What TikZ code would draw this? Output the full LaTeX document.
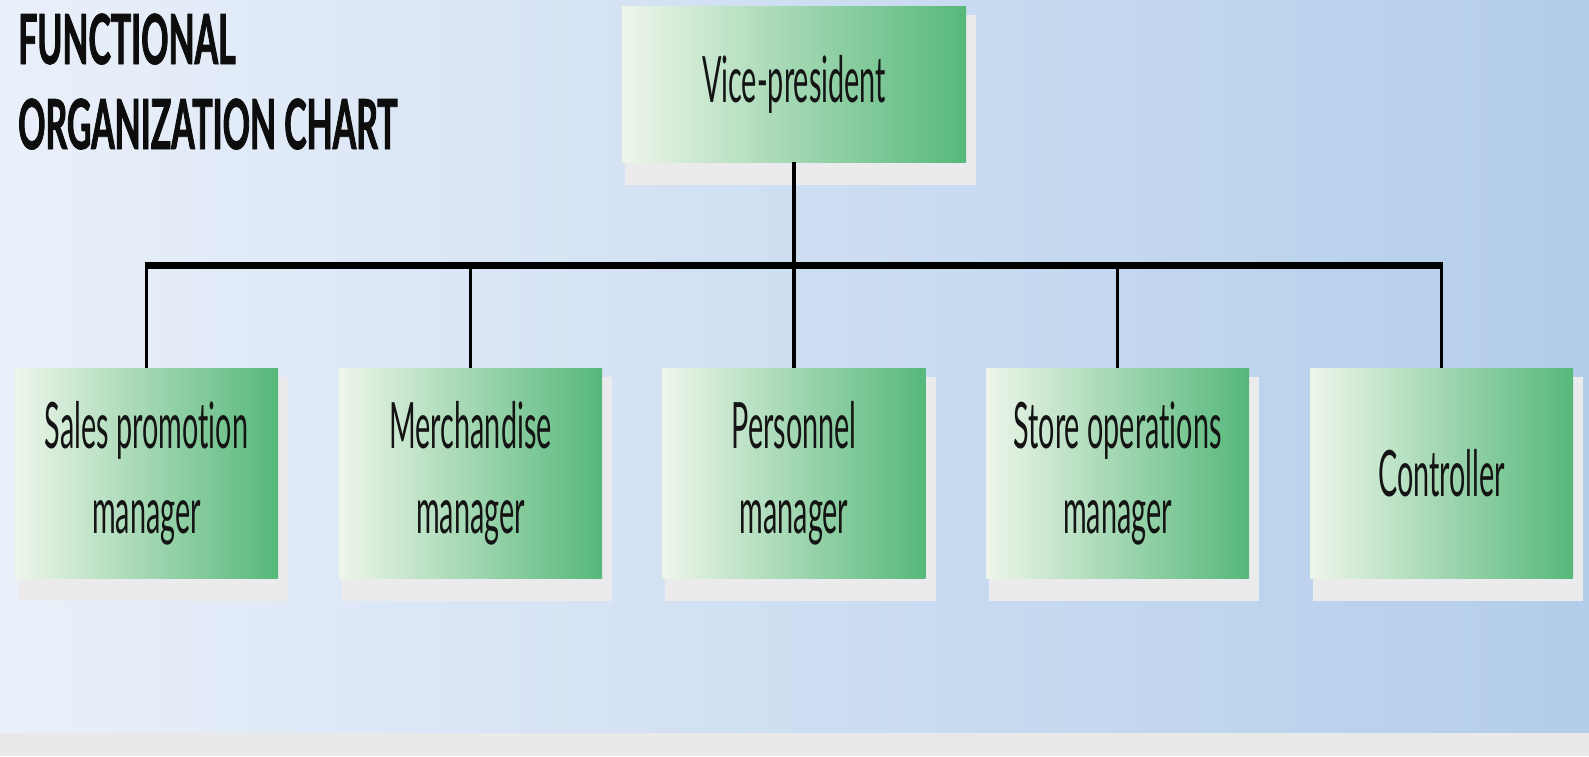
\documentclass[tikz,border=0pt]{standalone}
\usepackage{fontspec}
\newfontfamily\boxfont[FakeStretch=0.45, Ligatures=NoCommon]{Lato}
\newfontfamily\titlefont[FakeStretch=0.49, FakeBold=1.2]{Lato}
\definecolor{bgL}{RGB}{234,240,250}
\definecolor{bgR}{RGB}{179,205,234}
\definecolor{boxL}{RGB}{238,246,234}
\definecolor{boxR}{RGB}{86,184,122}
\definecolor{shadowc}{RGB}{235,234,236}
\definecolor{stripc}{RGB}{233,233,233}
\pgfdeclarelayer{back}
\pgfdeclarelayer{shade}
\pgfsetlayers{back,shade,main}
\tikzset{
  orgbox/.style={rectangle, inner sep=0pt, shading=axis, left color=boxL, right color=boxR,
    align=center, text=black!92, font={\boxfont\fontsize{64}{85}\selectfont}},
  topbox/.style={orgbox, minimum width=344pt, minimum height=156pt},
  unitbox/.style={orgbox, minimum width=263pt, minimum height=210pt},
  titletext/.style={anchor=base west, inner sep=0pt, text=black!95,
    font={\titlefont\bfseries\fontsize{69}{85}\selectfont}},
  link/.style={line width=3.6pt, black},
  busline/.style={line width=7pt, black}
}
\begin{document}
\begin{tikzpicture}[x=1pt, y=-1pt]
\useasboundingbox (0,0) rectangle (1589,756);

% background panel and bottom strip
\begin{pgfonlayer}{back}
  \shade[left color=bgL, right color=bgR] (0,0) rectangle (1589,733);
  \fill[stripc] (0,733) rectangle (1589,756);
\end{pgfonlayer}

% title
\node[titletext] (title1) at (18,64) {FUNCTIONAL};
\node[titletext] (title2) at (18,149) {ORGANIZATION CHART};

% boxes
\node[topbox] (vp) at (794,84) {Vice-president};
\node[unitbox] (b1) at (146.5,473) {Sales promotion\\manager};
\node[unitbox] (b2) at (470.5,473) {Merchandise\\manager};
\node[unitbox] (b3) at (794,473) {Personnel\\manager};
\node[unitbox] (b4) at (1117.5,473) {Store operations\\manager};
\node[unitbox] (b5) at (1441.5,473) {Controller};

% drop shadows behind the boxes
\begin{pgfonlayer}{shade}
  \foreach \n in {vp,b1,b2,b3,b4,b5}
    \fill[shadowc] ([shift={(3,9)}]\n.north west) rectangle ([shift={(10,23)}]\n.south east);
\end{pgfonlayer}

% connectors
\coordinate (bus) at (794,265.5);
\draw[link] (vp.south) -- (vp.south |- bus);
\draw[busline, shorten <=-1.8pt, shorten >=-1.8pt] (b1.north |- bus) -- (b5.north |- bus);
\foreach \n in {b1,b2,b3,b4,b5}
  \draw[link] (\n.north |- bus) -- (\n.north);
\end{tikzpicture}
\end{document}
